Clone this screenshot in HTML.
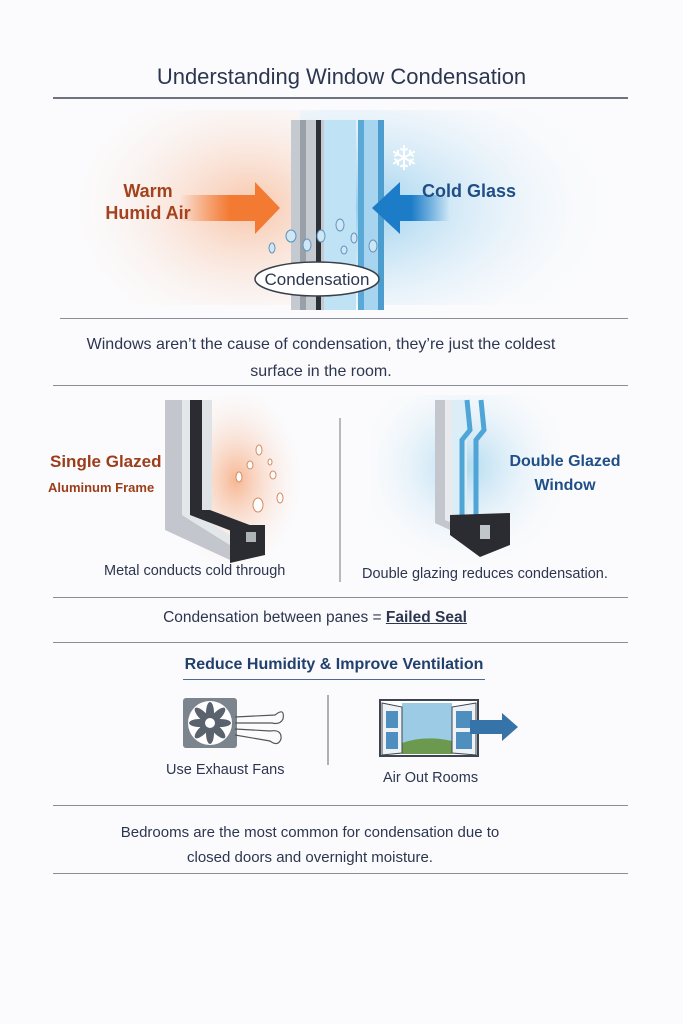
<!DOCTYPE html>
<html><head><meta charset="utf-8"><style>
body{margin:0;width:683px;height:1024px;background:#fbfbfd;position:relative;overflow:hidden;font-family:"Liberation Sans",sans-serif;color:#2d3650}
.a{position:absolute;white-space:nowrap}
.hl{position:absolute;height:1px;background:#8a8d96}
</style></head><body>
<div class="a" style="left:0;width:683px;top:64px;text-align:center;font-size:22px;color:#2c3650">Understanding Window Condensation</div>
<div class="hl" style="left:53px;width:575px;top:97px;height:2px;background:#6f7380"></div>

<svg class="a" style="left:0;top:110px" width="683" height="200">
<defs>
<radialGradient id="w" cx="0.8" cy="0.5" r="0.75"><stop offset="0" stop-color="#f7b894" stop-opacity=".8"/><stop offset="1" stop-color="#fbfbfd" stop-opacity="0"/></radialGradient>
<radialGradient id="c" cx="0.15" cy="0.5" r="0.8"><stop offset="0" stop-color="#8fcbec" stop-opacity=".95"/><stop offset="1" stop-color="#fbfbfd" stop-opacity="0"/></radialGradient>
<linearGradient id="ao" x1="0" x2="1"><stop offset="0" stop-color="#f37a33" stop-opacity="0"/><stop offset=".5" stop-color="#f37a33"/></linearGradient>
<linearGradient id="ab" x1="1" x2="0"><stop offset="0" stop-color="#1c7cc8" stop-opacity="0"/><stop offset=".5" stop-color="#1c7cc8"/></linearGradient>
</defs>
<rect x="40" y="0" width="260" height="195" fill="url(#w)"/>
<rect x="300" y="0" width="340" height="195" fill="url(#c)"/>
<rect x="291" y="10" width="33" height="190" fill="#c5c9d0"/>
<rect x="300" y="10" width="6" height="190" fill="#9aa0a8"/>
<rect x="316" y="10" width="5" height="190" fill="#2b2f36"/>
<rect x="324" y="10" width="32" height="190" fill="#bfe2f4"/>
<rect x="358" y="10" width="6" height="190" fill="#5aa8d6"/>
<rect x="364" y="10" width="14" height="190" fill="#a7d4ee"/>
<rect x="378" y="10" width="6" height="190" fill="#4c9ccd"/>
<polygon points="180,85 255,85 255,72 280,98 255,124 255,111 180,111" fill="url(#ao)"/>
<polygon points="450,85 400,85 400,72 372,98 400,124 400,111 450,111" fill="url(#ab)"/>
<text x="404" y="60" font-size="34" fill="#fff" text-anchor="middle">❄</text>
<g fill="#cfe6f5" stroke="#5d95bf" stroke-width="1">
<ellipse cx="291" cy="126" rx="5" ry="6"/><ellipse cx="307" cy="135" rx="4" ry="6"/><ellipse cx="321" cy="126" rx="4" ry="6"/><ellipse cx="340" cy="115" rx="4" ry="6"/><ellipse cx="354" cy="128" rx="3" ry="5"/><ellipse cx="373" cy="136" rx="4" ry="6"/><ellipse cx="272" cy="138" rx="3" ry="5"/><ellipse cx="344" cy="140" rx="3" ry="4"/>
</g>
<ellipse cx="317" cy="169" rx="62" ry="17" fill="#fff" stroke="#3a3f4a" stroke-width="1.5"/>
<text x="317" y="175" font-size="17" text-anchor="middle" fill="#2d3650" font-family="Liberation Sans">Condensation</text>
</svg>
<div class="a" style="left:100px;top:180px;font-size:18px;line-height:22px;color:#a3421c;text-align:center;width:96px;white-space:normal;font-weight:bold">Warm<br>Humid Air</div>
<div class="a" style="left:422px;top:181px;font-size:18px;color:#1f4f86;font-weight:bold">Cold Glass</div>

<div class="hl" style="left:60px;width:568px;top:318px"></div>
<div class="a" style="left:75px;top:331px;font-size:16px;line-height:27px;text-align:center;width:492px;white-space:normal">Windows aren’t the cause of condensation, they’re just the coldest surface in the room.</div>
<div class="hl" style="left:53px;width:575px;top:385px"></div>

<svg class="a" style="left:0;top:395px" width="683" height="200">
<defs>
<radialGradient id="w2" cx="0.3" cy="0.5" r="0.6"><stop offset="0" stop-color="#f6a577" stop-opacity=".8"/><stop offset="1" stop-color="#fbfbfd" stop-opacity="0"/></radialGradient>
<radialGradient id="c2" cx="0.5" cy="0.4" r="0.6"><stop offset="0" stop-color="#a9d7ef" stop-opacity=".9"/><stop offset="1" stop-color="#fbfbfd" stop-opacity="0"/></radialGradient>
</defs>
<rect x="200" y="0" width="120" height="170" fill="url(#w2)"/>
<rect x="370" y="0" width="190" height="180" fill="url(#c2)"/>
<polygon points="165,5 182,5 182,120 230,150 230,165 165,135" fill="#c3c7cd"/>
<polygon points="182,5 190,5 190,115 230,140 230,150 182,120" fill="#e4e7ea"/>
<polygon points="190,5 202,5 202,112 255,132 255,145 190,120" fill="#2a2c31"/>
<rect x="202" y="5" width="10" height="110" fill="#dfe3e6"/>
<polygon points="230,130 265,130 265,160 230,168" fill="#2a2c31"/>
<rect x="246" y="137" width="10" height="10" fill="#aeb3b8"/>
<g fill="#fff" stroke="#d88a60" stroke-width="1"><ellipse cx="258" cy="110" rx="5" ry="7"/><ellipse cx="239" cy="82" rx="3" ry="5"/><ellipse cx="250" cy="70" rx="3" ry="4"/><ellipse cx="280" cy="103" rx="3" ry="5"/><ellipse cx="259" cy="55" rx="3" ry="5"/><ellipse cx="273" cy="80" rx="3" ry="4"/><ellipse cx="270" cy="67" rx="2" ry="3"/></g>
<polygon points="435,5 445,5 445,125 478,138 478,148 435,128" fill="#c3c7cd"/>
<polygon points="445,5 452,5 452,122 490,130 490,138 445,125" fill="#e8eaed"/>
<rect x="452" y="5" width="15" height="115" fill="#dbeef8"/>
<path d="M467 5 L470 35 L462 45 L462 125" stroke="#4fa5d6" stroke-width="5" fill="none"/>
<path d="M481 5 L484 35 L476 45 L476 125" stroke="#4fa5d6" stroke-width="5" fill="none"/>
<polygon points="450,120 510,118 510,150 480,162 450,140" fill="#2a2c31"/>
<rect x="480" y="130" width="10" height="14" fill="#bfc5ca"/>
<line x1="340" y1="23" x2="340" y2="187" stroke="#777" stroke-width="1"/>
</svg>
<div class="a" style="left:50px;top:452px;font-size:17px;color:#9c3d1a;font-weight:bold">Single Glazed</div>
<div class="a" style="left:48px;top:480px;font-size:13px;color:#9c3d1a;font-weight:bold">Aluminum Frame</div>
<div class="a" style="left:500px;top:450px;font-size:16px;line-height:24px;color:#1f4f86;text-align:center;width:130px;font-weight:bold">Double Glazed<br>Window</div>
<div class="a" style="left:104px;top:563px;font-size:14.5px">Metal conducts cold through</div>
<div class="a" style="left:362px;top:566px;font-size:14.5px">Double glazing reduces condensation.</div>

<div class="hl" style="left:53px;width:575px;top:597px"></div>
<div class="a" style="left:0;width:630px;top:609px;text-align:center;font-size:15.5px">Condensation between panes = <b style="text-decoration:underline">Failed Seal</b></div>
<div class="hl" style="left:53px;width:575px;top:642px"></div>

<div class="a" style="left:0;width:668px;top:656px;text-align:center;font-size:16px;color:#22406e;font-weight:bold">Reduce Humidity &amp; Improve Ventilation</div>
<div class="hl" style="left:183px;width:302px;top:679px;background:#4d6a90"></div>
<svg class="a" style="left:180px;top:695px" width="340" height="70">
<rect x="3" y="3" width="54" height="50" rx="3" fill="#7c848e"/>
<circle cx="30" cy="28" r="22" fill="#fff"/>
<g fill="#5a626d" transform="translate(30,28)">
<ellipse rx="4" ry="11" cy="-10" transform="rotate(0)"/><ellipse rx="4" ry="11" cy="-10" transform="rotate(45)"/><ellipse rx="4" ry="11" cy="-10" transform="rotate(90)"/><ellipse rx="4" ry="11" cy="-10" transform="rotate(135)"/><ellipse rx="4" ry="11" cy="-10" transform="rotate(180)"/><ellipse rx="4" ry="11" cy="-10" transform="rotate(225)"/><ellipse rx="4" ry="11" cy="-10" transform="rotate(270)"/><ellipse rx="4" ry="11" cy="-10" transform="rotate(315)"/>
</g><circle cx="30" cy="28" r="5" fill="#fff"/>
<g stroke="#555" fill="none" stroke-width="1.2"><path d="M55 22 L95 20 Q105 12 103 24 Q100 30 92 28 L55 28"/><path d="M55 34 L90 36 Q102 34 101 44 Q98 52 90 46 L55 40"/></g>
<line x1="148" y1="-5" x2="148" y2="95" stroke="#666"/>
<rect x="200" y="5" width="98" height="56" fill="#fff" stroke="#3d4450" stroke-width="2"/>
<rect x="222" y="8" width="50" height="51" fill="#9ccbe6"/>
<path d="M222 48 Q245 40 272 46 L272 59 L222 59Z" fill="#6b9a4f"/>
<polygon points="202,8 222,12 222,58 202,60" fill="#eef2f5" stroke="#3d4450"/>
<rect x="206" y="16" width="12" height="17" fill="#4f8fbf"/><rect x="206" y="37" width="12" height="17" fill="#4f8fbf"/>
<polygon points="296,8 272,12 272,58 296,60" fill="#eef2f5" stroke="#3d4450"/>
<rect x="276" y="16" width="16" height="17" fill="#4f8fbf"/><rect x="276" y="37" width="16" height="17" fill="#4f8fbf"/>
<polygon points="290,25 322,25 322,18 338,32 322,46 322,39 290,39" fill="#3573a8"/>
</svg>
<div class="a" style="left:166px;top:762px;font-size:14.5px">Use Exhaust Fans</div>
<div class="a" style="left:383px;top:770px;font-size:14.5px">Air Out Rooms</div>

<div class="hl" style="left:53px;width:575px;top:805px"></div>
<div class="a" style="left:100px;top:820px;font-size:15px;line-height:25px;text-align:center;width:420px;white-space:normal">Bedrooms are the most common for condensation due to closed doors and overnight moisture.</div>
<div class="hl" style="left:53px;width:575px;top:873px"></div>
</body></html>
